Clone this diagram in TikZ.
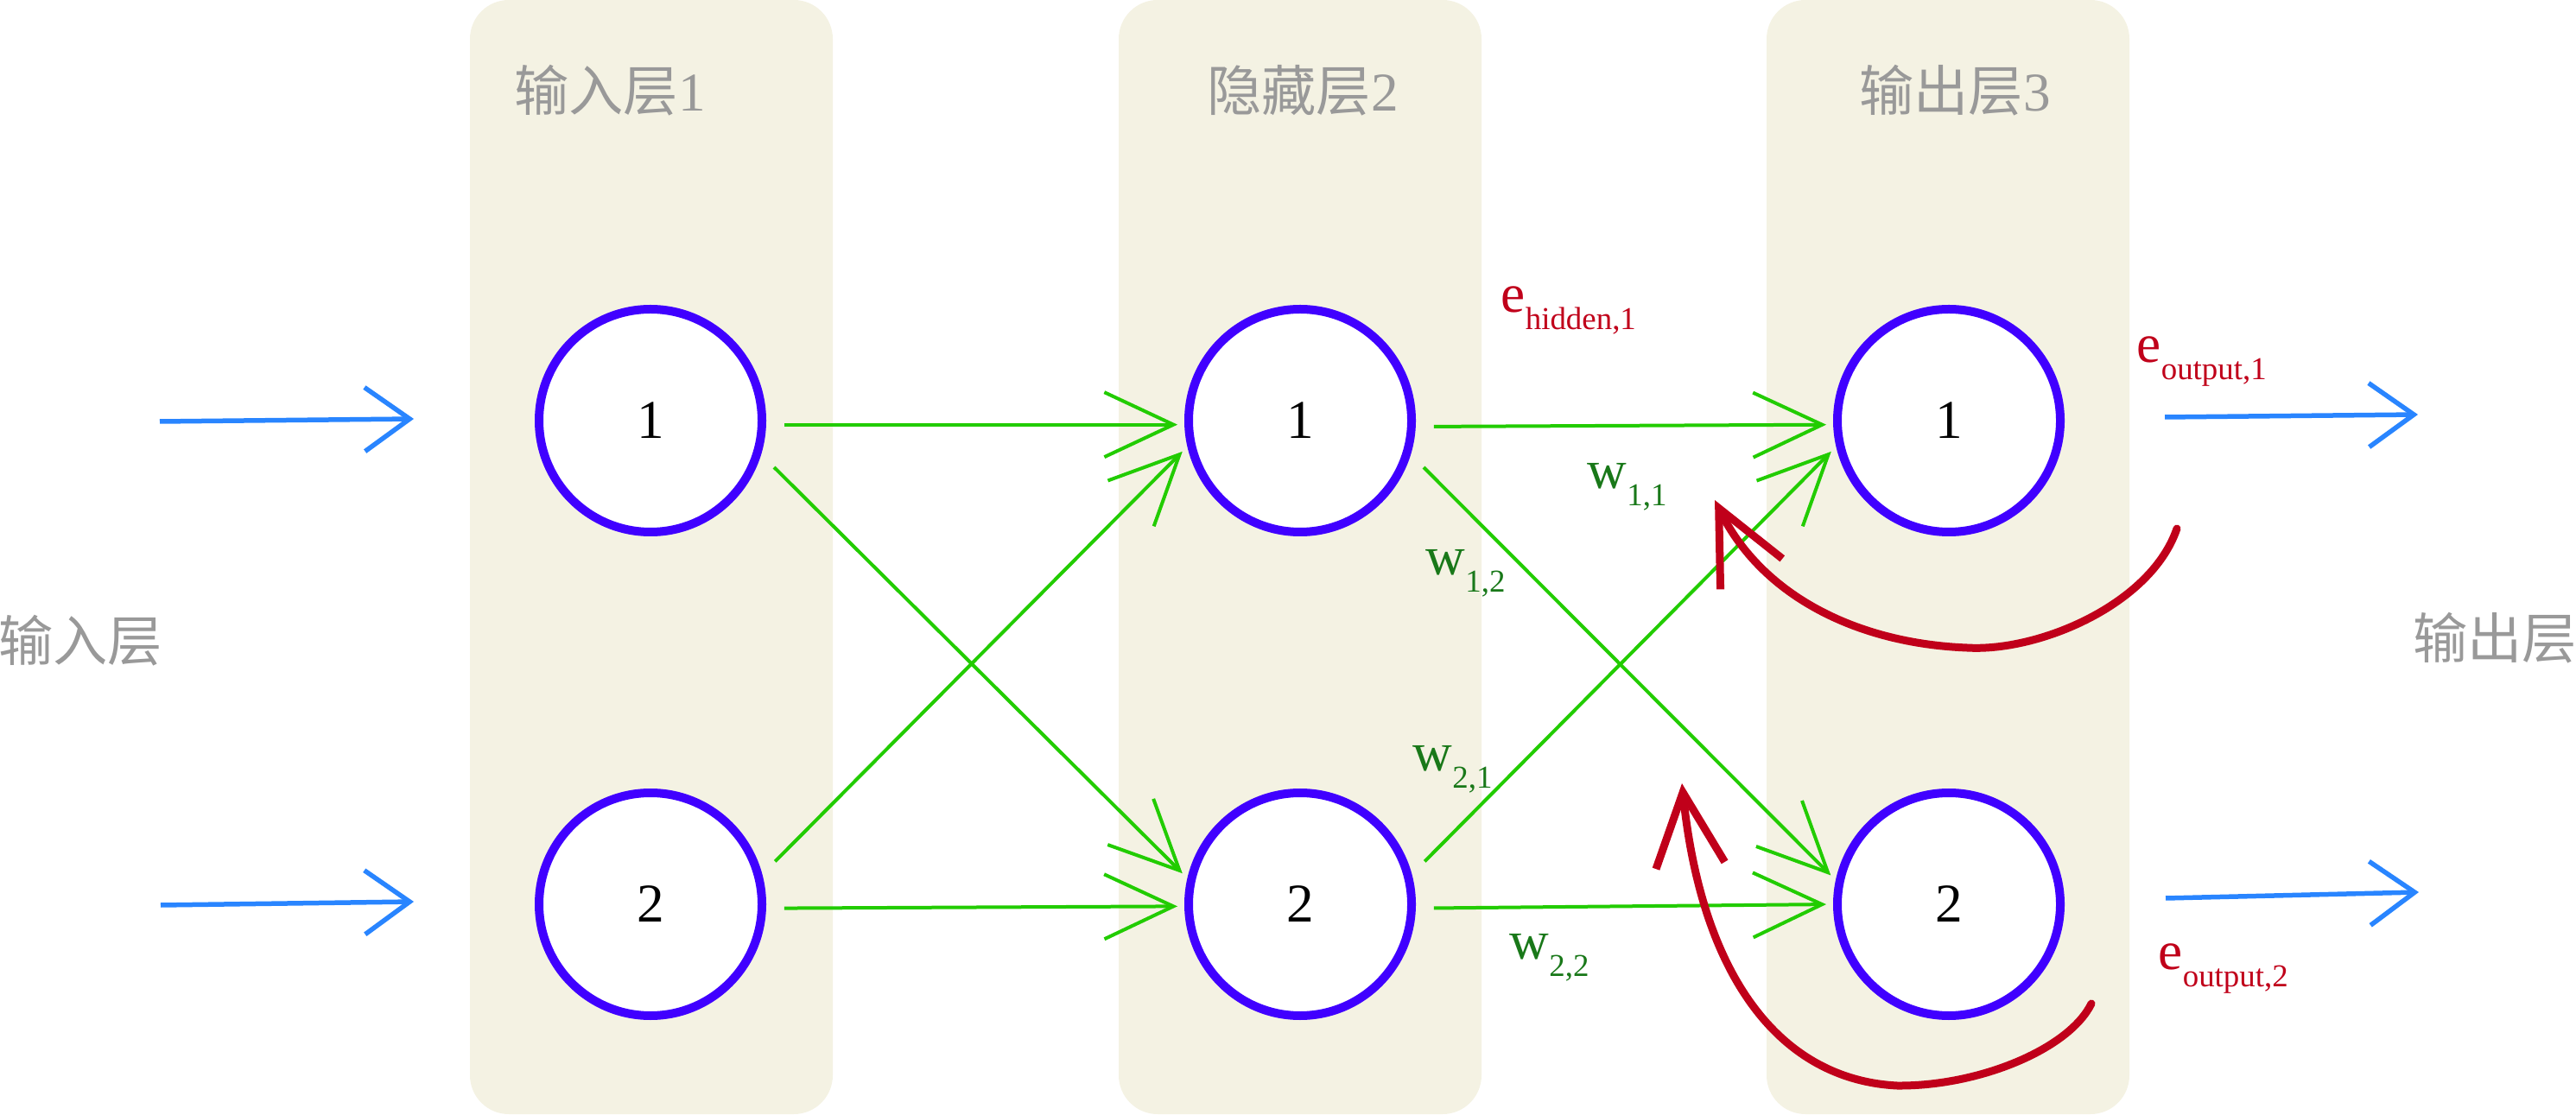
\documentclass[tikz,border=0pt]{standalone}
\usepackage{fontspec}
\setmainfont{Liberation Serif}
\newfontfamily\cjk{Noto Sans CJK SC}
\usetikzlibrary{positioning,calc}
\usetikzlibrary{arrows.meta}
\definecolor{PanelBeige}{RGB}{244,242,227}
\definecolor{TitleGray}{RGB}{153,153,153}
\definecolor{RingBlue}{RGB}{64,0,255}
\definecolor{FlowBlue}{RGB}{41,133,255}
\definecolor{LinkGreen}{RGB}{34,204,0}
\definecolor{WeightGreen}{RGB}{25,120,25}
\definecolor{ErrRed}{RGB}{192,0,26}
\newcommand{\lsub}[1]{\raisebox{-0.2cm}{\fontsize{10.5}{12}\selectfont #1}}
\tikzset{
	layer/.style={fill=PanelBeige,rounded corners=0.45cm,minimum width=4.2cm,minimum height=12.9cm,inner sep=0pt},
	neuron/.style={circle,draw=RingBlue,fill=white,line width=0.1cm,minimum size=2.58cm,inner sep=0pt,
		font=\fontsize{18}{20}\selectfont},
	layertitle/.style={text=TitleGray,inner sep=0pt,font=\fontsize{18}{20}\selectfont},
	feed/.style={draw=FlowBlue,line width=0.055cm,-{Straight Barb[length=0.52cm,width=0.74cm]}},
	link/.style={draw=LinkGreen,line width=0.04cm,shorten <=0.21cm,shorten >=0.08cm,
		-{Straight Barb[length=0.8cm,width=0.75cm]}},
	err/.style={draw=ErrRed,line width=0.09cm,line cap=round,-{Straight Barb[length=0.85cm,width=0.8cm]}},
	elbl/.style={text=ErrRed,anchor=base west,inner sep=0pt,font=\fontsize{18}{20}\selectfont},
	wlbl/.style={text=WeightGreen,anchor=base west,inner sep=0pt,font=\fontsize{18}{20}\selectfont},
}

\begin{document}
\begin{tikzpicture}
	\useasboundingbox (0,0) rectangle (29.82,12.9);
	\foreach \n/\x in {l1/7.54,l2/15.05,l3/22.55}
		\node[layer] (\n) at (\x,6.45) {};
	\node[layertitle] (t1) at (7.06,11.85) {{\cjk 输入层}1};
	\node[layertitle] (t2) at (15.08,11.85) {{\cjk 隐藏层}2};
	\node[layertitle] (t3) at (22.63,11.85) {{\cjk 输出层}3};
	\node[layertitle] (inl) at (0.93,5.48) {\cjk 输入层};
	\node[layertitle] (outl) at (28.88,5.51) {\cjk 输出层};
	\foreach \n/\x/\y/\t in {i1/7.53/8.03/1,i2/7.53/2.43/2,h1/15.05/8.03/1,h2/15.05/2.43/2,o1/22.56/8.03/1,o2/22.56/2.43/2}
		\node[neuron] (\n) at (\x,\y) {\t};
	\foreach \p/\a/\b/\c/\d in {x1/1.85/8.02/4.79/8.05,x2/1.86/2.42/4.79/2.46,y1/25.06/8.07/27.99/8.10,y2/25.07/2.50/28.00/2.57}
	{
		\coordinate (\p s) at (\a,\b);
		\coordinate (\p e) at (\c,\d);
		\draw[feed] (\p s) -- (\p e);
	}
	\foreach \a/\b/\s/\t in {i1/h1/-2/182,i1/h2/-17/167,i2/h1/15/193,i2/h2/-2/181,h1/o1/-3/182,h1/o2/-17/168,h2/o1/15/193,h2/o2/-2/180}
		\draw[link] (\a.\s) -- (\b.\t);
	\coordinate (r1s) at (25.20,6.78);
	\coordinate (r1b) at (22.77,5.40);
	\coordinate (r1e) at (19.85,7.11);
	\draw[err] (r1s) .. controls (24.9,5.9) and (23.6,5.35) .. (r1b) .. controls (21.5,5.45) and (20.4,6.0) .. (r1e);
	\coordinate (r2s) at (24.21,1.28);
	\coordinate (r2b) at (21.96,0.33);
	\coordinate (r2e) at (19.47,3.83);
	\draw[err] (r2s) .. controls (23.95,0.75) and (22.9,0.32) .. (r2b) .. controls (20.6,0.4) and (19.7,1.6) .. (r2e);
	\node[elbl] (eh1) at (17.37,9.28) {e\lsub{hidden,1}};
	\node[elbl] (eo1) at (24.73,8.70) {e\lsub{output,1}};
	\node[elbl] (eo2) at (24.98,1.68) {e\lsub{output,2}};
	\node[wlbl] (w11) at (18.37,7.24) {w\lsub{1,1}};
	\node[wlbl] (w12) at (16.50,6.24) {w\lsub{1,2}};
	\node[wlbl] (w21) at (16.35,3.97) {w\lsub{2,1}};
	\node[wlbl] (w22) at (17.47,1.80) {w\lsub{2,2}};
\end{tikzpicture}
\end{document}
